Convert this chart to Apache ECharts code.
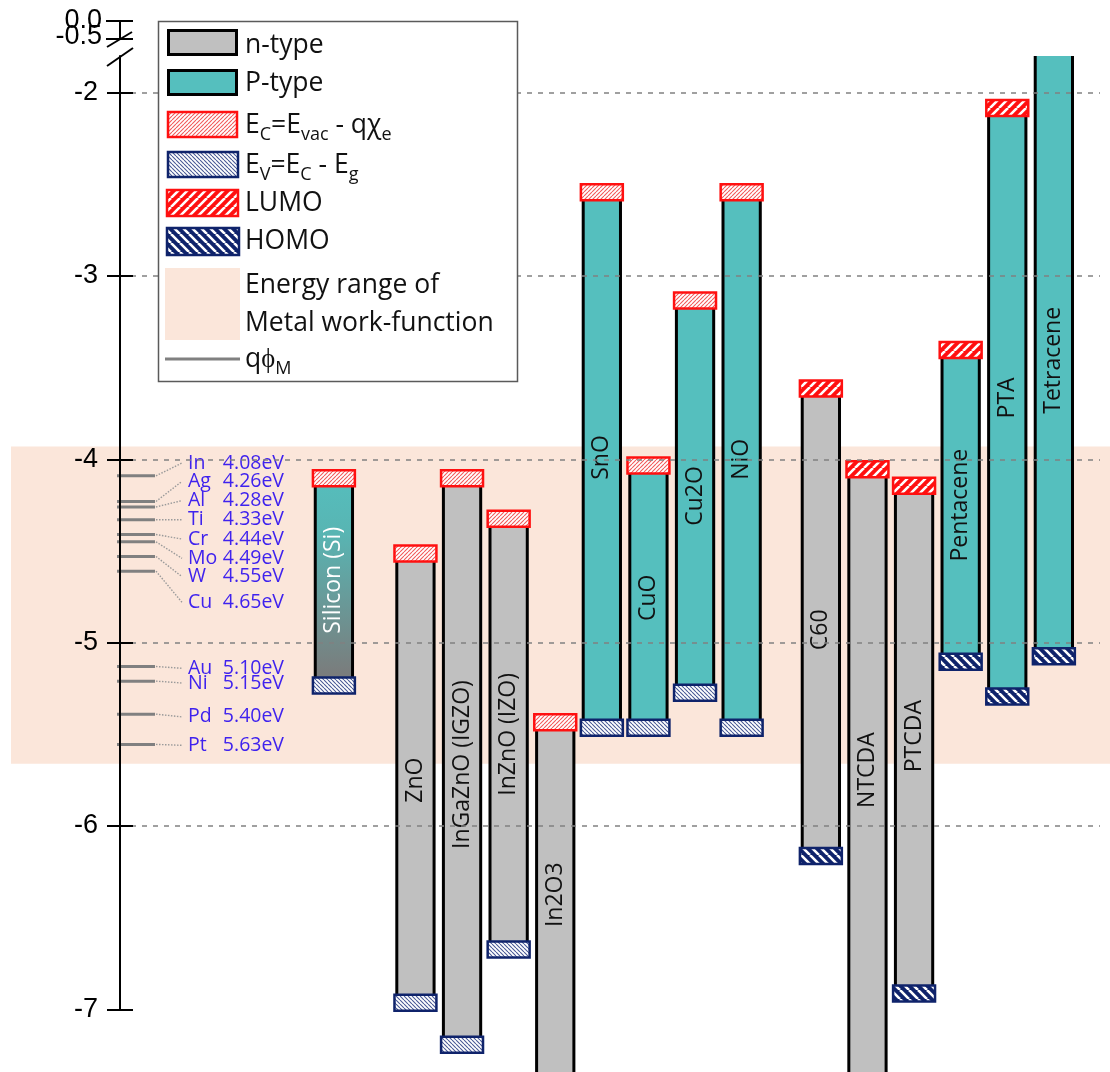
<!DOCTYPE html>
<html><head><meta charset="utf-8">
<script src="https://cdn.jsdelivr.net/npm/echarts@6/dist/echarts.min.js"></script>
<style>html,body{margin:0;padding:0;background:#fff}#c{width:1110px;height:1072px}</style>
</head><body><div id="c"></div>
<script>
// ---------------- DATA ----------------
const materials = ['Silicon (Si)','ZnO','InGaZnO (IGZO)','InZnO (IZO)','In2O3','SnO','CuO','Cu2O','NiO','C60','NTCDA','PTCDA','Pentacene','PTA','Tetracene'];
const slot = [0,1.75,2.75,3.75,4.75,5.75,6.75,7.75,8.75,10.45,11.45,12.45,13.45,14.45,15.45];
// conduction band / LUMO (top of red box), null = beyond visible range
const upperLevel = [-4.06,-4.47,-4.06,-4.28,-5.39,-2.50,-3.99,-3.09,-2.50,-3.57,-4.01,-4.10,-3.36,-2.04,null];
// valence band / HOMO (top of blue box), null = beyond visible range
const lowerLevel = [-5.19,-6.92,-7.15,-6.63,null,-5.42,-5.42,-5.23,-5.42,-6.12,null,-6.87,-5.06,-5.25,-5.03];
const carrierType = ['np','n','n','n','n','p','p','p','p','n','n','n','p','p','p'];
const levelKind = ['band','band','band','band','band','band','band','band','band','orbital','orbital','orbital','orbital','orbital','orbital'];
const nameLevel = [-4.66,-5.75,-5.665,-5.50,-6.375,-3.99,-4.755,-4.20,-4.00,-4.93,-5.695,-5.51,-4.25,-3.665,-3.46];

const metals = ['In','Ag','Al','Ti','Cr','Mo','W','Cu','Au','Ni','Pd','Pt'];
const workFunction = [4.08,4.26,4.28,4.33,4.44,4.49,4.55,4.65,5.10,5.15,5.40,5.63];
const metalLine = [-4.09,-4.23,-4.26,-4.33,-4.41,-4.45,-4.53,-4.61,-5.13,-5.21,-5.39,-5.555];
const metalLabelLevel = [-4.02,-4.12,-4.225,-4.33,-4.435,-4.54,-4.64,-4.78,-5.14,-5.22,-5.405,-5.56];

const yTicks = [-7,-6,-5,-4,-3,-2];
const gridLevels = [-6,-5,-4,-3,-2];
const bandRange = [-3.93,-5.66];
const brokenTickLabels = ['0.0','-0.5'];
const legendLabels = ['n-type','P-type','E{s|C}=E{s|vac} - qχ{s|e}','E{s|V}=E{s|C} - E{s|g}','LUMO','HOMO','Energy range of\nMetal work-function','qϕ{s|M}'];

// ---------------- STYLE ----------------
const GRAY='#c0c0c0', TEAL='#55bfbe', PEACH='#fbe6da', RED='#ff1010', NAVY='#0f236b', TXTBLUE='#3f22ee';
function hatch(size, bg, fg, lw, dir){
  const c=document.createElement('canvas'); c.width=c.height=size;
  const g=c.getContext('2d'); g.fillStyle=bg; g.fillRect(0,0,size,size);
  g.strokeStyle=fg; g.lineWidth=lw; g.beginPath();
  for(const o of [-size,0,size]){
    if(dir==='/'){ g.moveTo(o,size); g.lineTo(o+size,0);} else { g.moveTo(o,0); g.lineTo(o+size,size);}
  }
  g.stroke();
  return {image:c, repeat:'repeat'};
}
const patEc = hatch(4,'#ffffff','#f25a5a',1.1,'/');
const patEv = hatch(4,'#ffffff','#4a5a96',1.1,'\\');
const patLumo = hatch(9,RED,'#ffffff',2.6,'/');
const patHomo = hatch(9,NAVY,'#ffffff',2.6,'\\');

const chart = echarts.init(document.getElementById('c'), null, {renderer:'canvas'});
const BOXH = 16;

function renderBar(params, api){
  const i = params.dataIndex;
  const cs = params.coordSys;
  const xv = api.value(0);
  const unit = api.size([1,0])[0];
  const xc = api.coord([xv, -3])[0];
  const bw = unit*0.8, bx = unit*0.9;
  const up = upperLevel[i], lo = lowerLevel[i];
  const yTop = up==null ? cs.y : api.coord([xv, up])[1];
  const yBot = lo==null ? api.getHeight()+10 : api.coord([xv, lo])[1];
  let fill = carrierType[i]==='n' ? GRAY : TEAL;
  if (carrierType[i]==='np') fill = new echarts.graphic.LinearGradient(0,0,0,1,[{offset:0,color:'#55bfbe'},{offset:0.3,color:'#58b5b3'},{offset:1,color:'#7b7b7b'}]);
  const children = [
    {type:'rect', shape:{x:xc-bw/2, y:yTop, width:bw, height:yBot-yTop}, style:{fill:fill}},
    {type:'line', shape:{x1:xc-bw/2, y1:yTop, x2:xc-bw/2, y2:yBot}, style:{stroke:'#000', lineWidth:3}},
    {type:'line', shape:{x1:xc+bw/2, y1:yTop, x2:xc+bw/2, y2:yBot}, style:{stroke:'#000', lineWidth:3}}
  ];
  const org = levelKind[i]==='orbital';
  if (up!=null){
    children.push({type:'rect', shape:{x:xc-bx/2, y:yTop, width:bx, height:BOXH}, style:{fill: org?patLumo:patEc, stroke:RED, lineWidth:2.5}});
  }
  if (lo!=null){
    children.push({type:'rect', shape:{x:xc-bx/2, y:yBot, width:bx, height:BOXH}, style:{fill: org?patHomo:patEv, stroke:NAVY, lineWidth:2.5}});
  }
  children.push({type:'text', x:xc, y:api.coord([xv, nameLevel[i]])[1], rotation:Math.PI/2,
    style:{text:materials[i], fill: carrierType[i]==='np' ? '#ffffff' : '#111', font:'23px "Open Sans"', align:'center', verticalAlign:'middle'}});
  return {type:'group', children};
}

function renderBand(params, api){
  const cs = params.coordSys;
  const y1 = api.coord([0, api.value(0)])[1], y2 = api.coord([0, api.value(1)])[1];
  return {type:'rect', shape:{x:cs.x-109, y:y1, width:api.getWidth()-(cs.x-109), height:y2-y1}, style:{fill:PEACH}};
}

function renderMetal(params, api){
  const i = params.dataIndex;
  const ax = params.coordSys.x;
  const yl = api.coord([0, api.value(1)])[1];
  const yt = api.coord([0, api.value(2)])[1];
  return {type:'group', children:[
    {type:'line', shape:{x1:ax-3,y1:yl,x2:ax+35,y2:yl}, style:{stroke:'#808080', lineWidth:3}},
    {type:'line', shape:{x1:ax+36,y1:yl,x2:ax+62,y2:yt}, style:{stroke:'#9a9a9a', lineWidth:1.4, lineDash:[1.5,1.5]}},
    {type:'text', x:ax+68, y:yt, style:{
      text:'{n|'+metals[i]+'}{v|'+workFunction[i].toFixed(2)+'eV}',
      verticalAlign:'middle',
      rich:{ n:{font:'19.5px "Open Sans"', fill:TXTBLUE, width:31}, v:{font:'19.5px "Open Sans"', fill:TXTBLUE, width:65, align:'right'} }
    }}
  ]};
}

// legend graphics
const LX = 245, legendY = [45,83,125,165,203,241,304,359];
const legendGraphics = [
  {type:'rect', z:10, shape:{x:158.5,y:21.5,width:359,height:360}, style:{fill:'#fff', stroke:'#5a5a5a', lineWidth:1.5}},
  {type:'rect', z:11, shape:{x:168.5,y:30.5,width:68,height:24}, style:{fill:GRAY, stroke:'#000', lineWidth:3}},
  {type:'rect', z:11, shape:{x:168.5,y:70.5,width:68,height:24}, style:{fill:TEAL, stroke:'#000', lineWidth:3}},
  {type:'rect', z:11, shape:{x:168,y:112,width:69,height:25}, style:{fill:patEc, stroke:RED, lineWidth:2.5}},
  {type:'rect', z:11, shape:{x:168,y:152,width:70,height:25}, style:{fill:patEv, stroke:NAVY, lineWidth:2.5}},
  {type:'rect', z:11, shape:{x:167,y:190,width:71,height:26}, style:{fill:patLumo, stroke:RED, lineWidth:2.5}},
  {type:'rect', z:11, shape:{x:167,y:228,width:72,height:27}, style:{fill:patHomo, stroke:NAVY, lineWidth:2.5}},
  {type:'rect', z:11, shape:{x:165,y:268,width:75,height:72}, style:{fill:PEACH}},
  {type:'line', z:11, shape:{x1:165,y1:359,x2:240,y2:359}, style:{stroke:'#808080', lineWidth:3}}
];
legendLabels.forEach((t,k)=>{
  legendGraphics.push({type:'text', z:11, x:LX, y:legendY[k], style:{
    text:t, font:'26.5px "Open Sans"', fill:'#111', verticalAlign:'middle', lineHeight:38,
    rich:{ s:{fontSize:18, fontFamily:'Open Sans', fill:'#111', lineHeight:18, verticalAlign:'bottom'} }
  }});
});
// broken-axis decoration at top
const breakGraphics = [
  {type:'line', z:11, shape:{x1:106,y1:21,x2:133,y2:21}, style:{stroke:'#000', lineWidth:2}},
  {type:'line', z:11, shape:{x1:120,y1:21,x2:120,y2:38}, style:{stroke:'#000', lineWidth:2}},
  {type:'line', z:11, shape:{x1:106,y1:39,x2:133,y2:39}, style:{stroke:'#000', lineWidth:2}},
  {type:'line', z:11, shape:{x1:107,y1:47,x2:132,y2:32}, style:{stroke:'#000', lineWidth:2}},
  {type:'line', z:11, shape:{x1:107,y1:66,x2:133,y2:48}, style:{stroke:'#000', lineWidth:2}},
  {type:'text', z:11, x:102, y:21, style:{text:brokenTickLabels[0], font:'27px "Liberation Sans"', fill:'#000', align:'right', verticalAlign:'middle'}},
  {type:'text', z:11, x:102, y:37, style:{text:brokenTickLabels[1], font:'27px "Liberation Sans"', fill:'#000', align:'right', verticalAlign:'middle'}}
];

const yMin = -7, yMax = -1.8;
const option = {
  animation:false,
  backgroundColor:'#fff',
  grid:{left:120, right:10, top:56, bottom:62.7, outerBoundsMode:'none'},
  xAxis:{type:'value', min:-4.59, max:16.44, show:false},
  yAxis:[
    {type:'value', min:yMin, max:yMax, position:'left', z:6,
     axisLine:{show:true, onZero:false, lineStyle:{color:'#000', width:2}},
     axisTick:{show:true, customValues:yTicks, length:13, lineStyle:{color:'#000', width:2}},
     axisLabel:{show:true, customValues:yTicks, margin:22, color:'#000', fontSize:27, fontFamily:'Liberation Sans'},
     splitLine:{show:false}},
    {type:'value', min:yMin, max:yMax, position:'right', offset:-980, z:6,
     axisLine:{show:false, onZero:false},
     axisTick:{show:true, customValues:yTicks, length:13, lineStyle:{color:'#000', width:2}},
     axisLabel:{show:false}, splitLine:{show:false}}
  ],
  graphic:{elements: legendGraphics.concat(breakGraphics)},
  series:[
    {type:'custom', z:1, clip:false, silent:true, renderItem:renderBand, data:[[bandRange[0], bandRange[1]]], encode:{x:-1, y:[0,1]}},
    {type:'custom', z:2, clip:false, silent:true, renderItem:renderBar,
     data: materials.map((m,i)=>[slot[i], upperLevel[i]==null? yMax : upperLevel[i], lowerLevel[i]==null? yMin : lowerLevel[i]]),
     encode:{x:0, y:[1,2]},
     markLine:{silent:true, symbol:['none','none'], label:{show:false}, animation:false,
       lineStyle:{type:[5,6], color:'#808080', width:2, opacity:0.75},
       data: gridLevels.map(v=>({yAxis:v}))}},
    {type:'custom', z:3, clip:false, silent:true, renderItem:renderMetal,
     data: metals.map((m,i)=>[workFunction[i], metalLine[i], metalLabelLevel[i]]), encode:{x:-1, y:[1,2]}}
  ]
};
chart.setOption(option);
</script></body></html>
